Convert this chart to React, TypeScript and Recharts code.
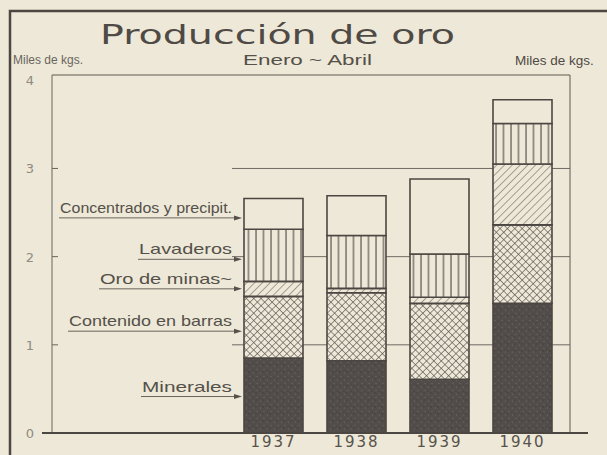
import { BarChart, Bar, XAxis, YAxis, CartesianGrid, ReferenceLine } from 'recharts'

// Producción de oro, Enero ~ Abril (miles de kgs.)
const years = ['1937', '1938', '1939', '1940']
const minerales = [0.85, 0.82, 0.61, 1.47]
const contenidoBarras = [0.7, 0.77, 0.86, 0.89]
const oroMinas = [0.17, 0.05, 0.07, 0.69]
const lavaderos = [0.59, 0.6, 0.49, 0.46]
const concentrados = [0.35, 0.45, 0.85, 0.27]

const seriesKeys = ['minerales', 'contenido', 'oro', 'lavaderos', 'concentrados']
const seriesNames = ['Minerales', 'Contenido en barras', 'Oro de minas~', 'Lavaderos', 'Concentrados y precipit.']
const yTicks = [0, 1, 2, 3, 4]
const gridValues = [1, 2, 3]

const data = years.map((year, i) => ({
  year,
  minerales: minerales[i],
  contenido: contenidoBarras[i],
  oro: oroMinas[i],
  lavaderos: lavaderos[i],
  concentrados: concentrados[i],
}))

// layout
const W = 607
const H = 455
const MARGIN = { top: 75, right: 0, bottom: 0, left: 8 }
const LEFT_AXIS_W = 44
const RIGHT_AXIS_W = 37
const X_AXIS_H = 22
const PAD_LEFT = 180
const PAD_RIGHT = 6
const Y_MAX = 4.06
const PLOT_LEFT = MARGIN.left + LEFT_AXIS_W
const PLOT_RIGHT = W - MARGIN.right - RIGHT_AXIS_W
const PLOT_BOTTOM = H - MARGIN.bottom - X_AXIS_H

const PAPER = '#ede8d7'
const INK = '#4b4642'
const FAINT = '#8f8a82'

const fills = ['url(#minerales)', 'url(#cross)', 'url(#diag)', 'url(#vert)', PAPER]
const labelWidths = [90, 163, 132, 93, 172]
const arrowDy = [1, 4, 0, 4, 4]

function makeLabel(s: number) {
  return (props: any) => {
    const { x, y, height, index } = props
    if (index !== 0) return null
    const ay = Number(y) + Number(height) / 2 + arrowDy[s]
    const tipX = Number(x) - 2
    const textEnd = Number(x) - 12
    const start = textEnd - labelWidths[s]
    return (
      <g>
        <text
          x={start}
          y={ay - 5}
          textLength={labelWidths[s]}
          lengthAdjust="spacingAndGlyphs"
          fontFamily="Liberation Sans, sans-serif"
          fontSize={15}
          fill="#55504a"
        >
          {seriesNames[s]}
        </text>
        <line x1={start - 1} y1={ay} x2={tipX - 6} y2={ay} stroke="#6a645e" strokeWidth={1} />
        <path d={`M${tipX - 8},${ay - 2.5} L${tipX},${ay} L${tipX - 8},${ay + 2.5} Z`} fill="#55504a" />
      </g>
    )
  }
}

function LeftTick(props: any) {
  const { x, y, payload } = props
  return (
    <g>
      <text x={x - 22} y={y + 5} textAnchor="middle" fontFamily="DejaVu Sans, sans-serif" fontSize={13} fill={FAINT}>
        {payload.value}
      </text>
      {gridValues.includes(payload.value) && <line x1={x} y1={y} x2={x + 6} y2={y} stroke="#6a645e" />}
    </g>
  )
}

function RightTick(props: any) {
  const { x, y, payload } = props
  const dy = payload.value === 4 ? 8 : 5
  return (
    <text x={x + 18} y={y + dy} textAnchor="middle" fontFamily="DejaVu Sans, sans-serif" fontSize={14} fill="#57524c">
      {payload.value}
    </text>
  )
}

function YearTick(props: any) {
  const { x, y, payload } = props
  return (
    <text x={x} y={y + 14} textAnchor="middle" fontFamily="DejaVu Sans, sans-serif" fontSize={15} letterSpacing={2} fill="#57524c">
      {payload.value}
    </text>
  )
}

function Patterns() {
  return (
    <svg width={0} height={0} style={{ position: 'absolute' }}>
      <defs>
        <pattern id="minerales" patternUnits="userSpaceOnUse" width={7} height={7}>
          <rect width={7} height={7} fill="#524d4a" />
          <circle cx={1.5} cy={2} r={0.6} fill="#726d68" />
          <circle cx={5} cy={5.5} r={0.5} fill="#7a756f" />
          <circle cx={4} cy={1} r={0.7} fill="#423d3a" />
          <circle cx={1} cy={6} r={0.6} fill="#403b38" />
        </pattern>
        <pattern id="cross" patternUnits="userSpaceOnUse" width={5.2} height={5.2} patternTransform="rotate(45)">
          <rect width={5.2} height={5.2} fill={PAPER} />
          <line x1={0} y1={0} x2={0} y2={5.2} stroke="#524c48" strokeWidth={1.2} />
          <line x1={0} y1={0} x2={5.2} y2={0} stroke="#524c48" strokeWidth={1.2} />
        </pattern>
        <pattern id="diag" patternUnits="userSpaceOnUse" width={5.5} height={5.5} patternTransform="rotate(45)">
          <rect width={5.5} height={5.5} fill={PAPER} />
          <line x1={0} y1={0} x2={0} y2={5.5} stroke="#5a544f" strokeWidth={1} />
        </pattern>
        <pattern id="vert" patternUnits="userSpaceOnUse" width={7.5} height={10}>
          <rect width={7.5} height={10} fill={PAPER} />
          <line x1={1} y1={0} x2={1} y2={10} stroke="#504b46" strokeWidth={1.1} />
        </pattern>
      </defs>
    </svg>
  )
}

export default function App() {
  return (
    <div style={{ position: 'absolute', left: 0, top: 0, width: W, height: H, background: PAPER, overflow: 'hidden' }}>
      <Patterns />
      <BarChart width={W} height={H} data={data} margin={MARGIN} barSize={59}>
        <CartesianGrid
          vertical={false}
          horizontalValues={gridValues}
          x={PLOT_LEFT + PAD_LEFT}
          width={PLOT_RIGHT - PLOT_LEFT - PAD_LEFT}
          stroke="#6f6a64"
          strokeWidth={1}
        />
        <XAxis
          dataKey="year"
          height={X_AXIS_H}
          padding={{ left: PAD_LEFT, right: PAD_RIGHT }}
          axisLine={false}
          tickLine={false}
          tickSize={0}
          tickMargin={0}
          tick={<YearTick />}
        />
        <YAxis
          domain={[0, Y_MAX]}
          ticks={yTicks}
          width={LEFT_AXIS_W}
          axisLine={{ stroke: '#6a645e' }}
          tickLine={false}
          tickSize={0}
          tickMargin={0}
          tick={<LeftTick />}
        />
        <YAxis
          yAxisId="right"
          orientation="right"
          domain={[0, Y_MAX]}
          ticks={yTicks}
          width={RIGHT_AXIS_W}
          axisLine={{ stroke: '#5e5853' }}
          tickLine={false}
          tickSize={0}
          tickMargin={0}
          tick={<RightTick />}
        />
        <ReferenceLine y={Y_MAX} stroke="#5e5853" strokeWidth={1.2} />
        {seriesKeys.map((key, s) => (
          <Bar
            key={key}
            dataKey={key}
            stackId="oro"
            fill={fills[s]}
            stroke={INK}
            strokeWidth={1.6}
            isAnimationActive={false}
            label={makeLabel(s)}
          />
        ))}
      </BarChart>
      <svg width={W} height={H} style={{ position: 'absolute', left: 0, top: 0, pointerEvents: 'none' }}>
        <rect x={10} y={11} width={W + 40} height={H + 40} fill="none" stroke={INK} strokeWidth={2.5} />
        <line x1={PLOT_LEFT - 10} y1={PLOT_BOTTOM} x2={PLOT_RIGHT + 18} y2={PLOT_BOTTOM} stroke={INK} strokeWidth={2.2} />
        <text x={100} y={44} textLength={355} lengthAdjust="spacingAndGlyphs" fontFamily="DejaVu Sans, sans-serif" fontSize={27} fill="#4f4a45">
          Producción de oro
        </text>
        <text x={243} y={65} textLength={129} lengthAdjust="spacingAndGlyphs" fontFamily="Liberation Sans, sans-serif" fontSize={15} fill="#55504a">
          Enero ~ Abril
        </text>
        <text x={13} y={64} fontFamily="Liberation Sans, sans-serif" fontSize={12} fill="#6a655f">
          Miles de kgs.
        </text>
        <text x={515} y={65} fontFamily="Liberation Sans, sans-serif" fontSize={13.5} fill="#4f4a45">
          Miles de kgs.
        </text>
      </svg>
    </div>
  )
}
